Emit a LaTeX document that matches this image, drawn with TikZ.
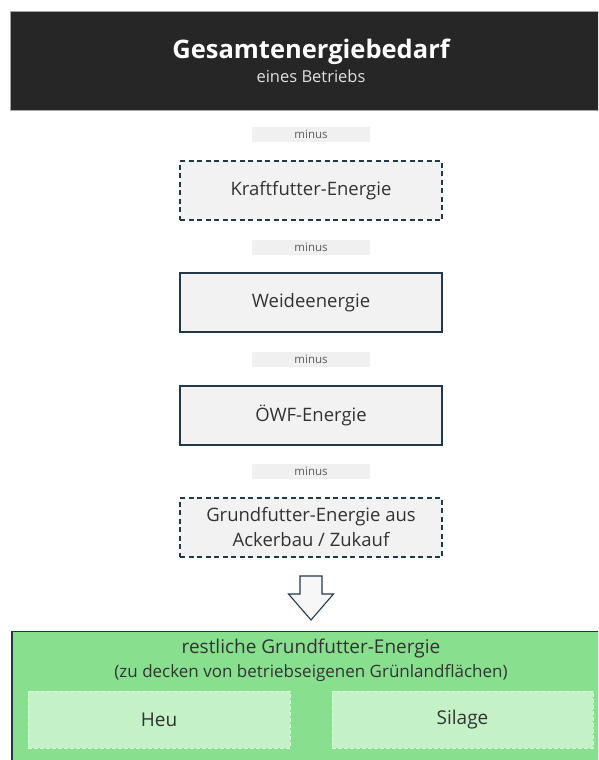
\documentclass[tikz,border=0pt]{standalone}
\usepackage{fontspec}
\setmainfont{Open Sans}
\usetikzlibrary{positioning}
\definecolor{slate}{HTML}{23394A}
\definecolor{boxgray}{HTML}{F2F2F2}
\definecolor{minusgray}{HTML}{F0F0F0}
\definecolor{headdark}{HTML}{262626}
\definecolor{restgreen}{HTML}{88E08F}
\definecolor{partgreen}{HTML}{C4F1C6}
\definecolor{txtgray}{HTML}{333333}
\tikzset{
  minuslabel/.style={fill=minusgray, minimum width=118pt, minimum height=15pt,
    inner sep=0pt, text=txtgray!80, font=\fontsize{11.5}{12}\selectfont},
  energybox/.style={draw=slate, fill=boxgray, line width=1.1pt, minimum width=262pt,
    minimum height=59pt, inner sep=0pt, align=center, text=txtgray,
    font=\fontsize{18.5}{25}\selectfont},
  optbox/.style={energybox, dashed, dash pattern=on 5pt off 3.5pt},
  partbox/.style={fill=partgreen, draw=partgreen!60!white, dashed, dash pattern=on 4pt off 2pt,
    line width=0.8pt, minimum height=57pt, inner sep=0pt, text=txtgray,
    font=\fontsize{19}{22}\selectfont}
}
\begin{document}
\begin{tikzpicture}[x=1pt, y=-1pt]
  \useasboundingbox (0,0) rectangle (598,760);
  \clip (0,0) rectangle (598,760);
  % header
  \node[draw=gray!70, fill=headdark, line width=0.8pt, minimum width=602pt,
    minimum height=99pt, inner sep=0pt, align=center, text=white] (total) at (311,61)
    {{\fontsize{25.5}{28}\selectfont\bfseries Gesamtenergiebedarf}\\[4pt]
     {\fontsize{16.5}{18}\selectfont\color{white!88!black} eines Betriebs}};
  % subtraction steps
  \node[minuslabel] (m1) at (311,134.5) {minus};
  \node[optbox] (kraft) at (311,190.5) {Kraftfutter-Energie};
  \node[minuslabel] (m2) at (311,247) {minus};
  \node[energybox] (weide) at (311,302.5) {Weideenergie};
  \node[minuslabel] (m3) at (311,359) {minus};
  \node[energybox] (oewf) at (311,415.5) {ÖWF-Energie};
  \node[minuslabel] (m4) at (311,471) {minus};
  \node[optbox] (acker) at (311,527.5) {Grundfutter-Energie aus\\Ackerbau / Zukauf};
  % block arrow
  \coordinate (atop) at (311,576);
  \draw[slate, fill=boxgray!60!white, line width=1.1pt, line join=miter]
    (atop) ++(-11,0) -- ++(0,18) -- ++(-11.5,0) -- ++(22.5,26) -- ++(22.5,-26)
    -- ++(-11.5,0) -- ++(0,-18) -- cycle;
  % remaining energy
  \node[draw=slate, fill=restgreen, line width=1.1pt, minimum width=598pt,
    minimum height=180pt, anchor=north, inner sep=0pt] (rest) at (311,630.5) {};
  \node[text=txtgray, font=\fontsize{19}{22}\selectfont, align=center, anchor=north]
    (resttxt) at (311,635) {restliche Grundfutter-Energie\\[2pt]
    {\fontsize{17}{19}\selectfont (zu decken von betriebseigenen Grünlandflächen)}};
  \node[partbox, minimum width=262pt] (heu) at (159,719.5) {Heu};
  \node[partbox, minimum width=261pt] (silage) at (462.5,719.5) {Silage};
\end{tikzpicture}
\end{document}
